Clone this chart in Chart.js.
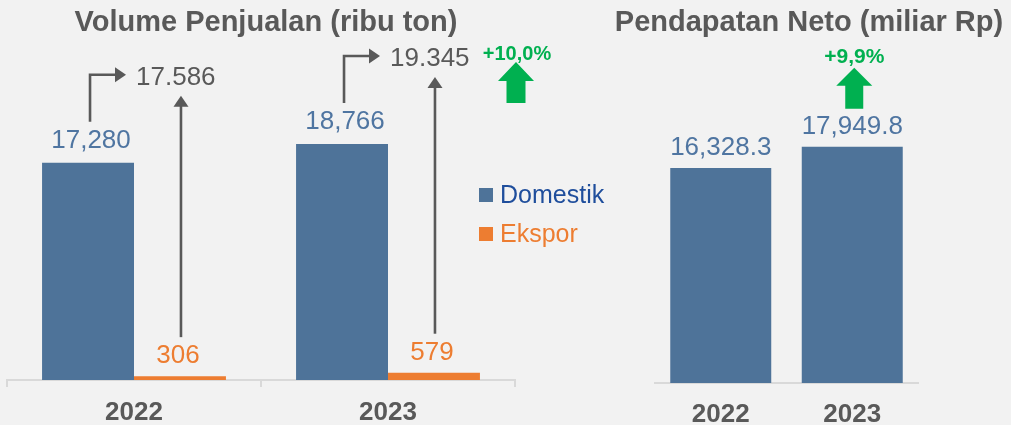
<!DOCTYPE html>
<html><head><meta charset="utf-8">
<script src="https://cdn.jsdelivr.net/npm/chart.js@4.4.1/dist/chart.umd.min.js"></script>
<style>
html,body{margin:0;padding:0;background:#f2f2f2;width:1011px;height:425px;overflow:hidden}
#c1{position:absolute;left:0;top:0}
#c2{position:absolute;left:560px;top:0}
</style></head><body>
<canvas id="c1" width="620" height="425"></canvas>
<canvas id="c2" width="451" height="425"></canvas>
<script>
// ---- data ----
const years = ['2022', '2023'];
const seriesNames = ['Domestik', 'Ekspor'];
const domestik = [17280, 18766];
const ekspor = [306, 579];
const totalVolume = [17586, 19345];
const volumeGrowth = '+10,0%';
const pendapatan = [16328.3, 17949.8];
const pendapatanGrowth = '+9,9%';
const titleVolume = 'Volume Penjualan (ribu ton)';
const titlePendapatan = 'Pendapatan Neto (miliar Rp)';

// ---- styles ----
const FF = '"Liberation Sans", Arial, sans-serif';
const BAR = '#4e7399';
const BLUE_LABEL = '#4f75a1';
const ORANGE = '#ed7d31';
const GRAY = '#595959';
const GREEN = '#00b050';
const LEG_BLUE = '#1f4e9c';
const AXIS = '#d9d9d9';

function fmt(v, thou, dec, decimals) {
  const s = v.toFixed(decimals);
  let [ip, fp] = s.split('.');
  ip = ip.replace(/\B(?=(\d{3})+(?!\d))/g, thou);
  return fp ? ip + dec + fp : ip;
}
function upHead(ctx, x, tipY, half, h) {
  ctx.beginPath(); ctx.moveTo(x, tipY); ctx.lineTo(x - half, tipY + h); ctx.lineTo(x + half, tipY + h); ctx.closePath(); ctx.fill();
}
function rightHead(ctx, tipX, y, half, w) {
  ctx.beginPath(); ctx.moveTo(tipX, y); ctx.lineTo(tipX - w, y - half); ctx.lineTo(tipX - w, y + half); ctx.closePath(); ctx.fill();
}
function blockArrow(ctx, cx, top, headBottom, bottom, headHalf, shaftHalf) {
  ctx.beginPath();
  ctx.moveTo(cx, top);
  ctx.lineTo(cx + headHalf, headBottom);
  ctx.lineTo(cx + shaftHalf, headBottom);
  ctx.lineTo(cx + shaftHalf, bottom);
  ctx.lineTo(cx - shaftHalf, bottom);
  ctx.lineTo(cx - shaftHalf, headBottom);
  ctx.lineTo(cx - headHalf, headBottom);
  ctx.closePath();
  ctx.fill();
}

const volumePlugin = {
  id: 'volumeDecor',
  afterDatasetsDraw(chart) {
    const ctx = chart.ctx, area = chart.chartArea, xs = chart.scales.x;
    const m0 = chart.getDatasetMeta(0), m1 = chart.getDatasetMeta(1);
    ctx.save();
    // title
    ctx.fillStyle = GRAY; ctx.font = 'bold 29px ' + FF; ctx.textAlign = 'center'; ctx.textBaseline = 'middle';
    ctx.fillText(titleVolume, 266, 23);
    // x labels
    ctx.font = 'bold 26px ' + FF;
    years.forEach((y, i) => ctx.fillText(y, xs.getPixelForValue(i), 413));
    let lastLy = 0;
    for (let i = 0; i < years.length; i++) {
      const d = m0.data[i], e = m1.data[i];
      const ly = d.y - 22, oy = e.y - 20;
      lastLy = ly;
      ctx.font = '26px ' + FF; ctx.textAlign = 'center'; ctx.textBaseline = 'middle';
      ctx.fillStyle = BLUE_LABEL; ctx.fillText(fmt(domestik[i], ',', '.', 0), d.x + 3, ly);
      ctx.fillStyle = ORANGE; ctx.fillText(fmt(ekspor[i], ',', '.', 0), e.x - 2, oy);
      // vertical arrow from ekspor label
      ctx.strokeStyle = GRAY; ctx.fillStyle = GRAY; ctx.lineWidth = 2.6;
      const vx = e.x + 1;
      ctx.beginPath(); ctx.moveTo(vx, oy - 19); ctx.lineTo(vx, ly - 36); ctx.stroke();
      upHead(ctx, vx, ly - 45, 7.5, 11);
      // elbow arrow from domestik label
      const ex = d.x + 2, tip = d.x + 38;
      ctx.beginPath(); ctx.moveTo(ex, ly - 19); ctx.lineTo(ex, ly - 66); ctx.lineTo(tip - 8, ly - 66); ctx.stroke();
      rightHead(ctx, tip, ly - 66, 7.5, 11);
      // total label
      ctx.textAlign = 'left'; ctx.fillStyle = GRAY;
      ctx.fillText(fmt(totalVolume[i], '.', ',', 0), tip + 10, ly - 63);
    }
    // growth arrow
    const gx = area.right + 1;
    ctx.fillStyle = GREEN;
    blockArrow(ctx, gx, lastLy - 60, lastLy - 41, lastLy - 19, 18, 9.5);
    ctx.font = 'bold 20px ' + FF; ctx.textAlign = 'center';
    ctx.fillText(volumeGrowth, gx + 1, lastLy - 68);
    // legend
    const lx = area.right - 36;
    const legY = [195, 234];
    const legText = [LEG_BLUE, ORANGE];
    chart.data.datasets.forEach((ds, i) => {
      ctx.fillStyle = ds.backgroundColor;
      ctx.fillRect(lx, legY[i] - 7, 14, 14);
      ctx.fillStyle = legText[i]; ctx.font = '25px ' + FF; ctx.textAlign = 'left';
      ctx.fillText(ds.label, lx + 21, legY[i] + 1);
    });
    ctx.restore();
  }
};

new Chart(document.getElementById('c1'), {
  type: 'bar',
  data: {
    labels: years,
    datasets: [
      { label: seriesNames[0], data: domestik, backgroundColor: BAR, borderWidth: 0 },
      { label: seriesNames[1], data: ekspor, backgroundColor: ORANGE, borderWidth: 0 }
    ]
  },
  options: {
    responsive: false, animation: false, devicePixelRatio: 1,
    layout: { padding: { left: 7, right: 105, top: 60, bottom: 38 } },
    datasets: { bar: { categoryPercentage: 0.724, barPercentage: 1.0 } },
    plugins: { legend: { display: false }, title: { display: false }, tooltip: { enabled: false } },
    scales: {
      x: {
        display: true,
        ticks: { display: false },
        grid: { display: true, drawOnChartArea: false, drawTicks: true, tickLength: 7, color: AXIS, lineWidth: 2 },
        border: { display: true, color: AXIS, width: 2 }
      },
      y: { display: false, min: 0, max: 25450 }
    }
  },
  plugins: [volumePlugin]
});

const revenuePlugin = {
  id: 'revenueDecor',
  afterDatasetsDraw(chart) {
    const ctx = chart.ctx, xs = chart.scales.x;
    const m = chart.getDatasetMeta(0);
    ctx.save();
    ctx.fillStyle = GRAY; ctx.font = 'bold 29px ' + FF; ctx.textAlign = 'center'; ctx.textBaseline = 'middle';
    ctx.fillText(titlePendapatan, 249, 23);
    ctx.font = 'bold 26px ' + FF;
    years.forEach((y, i) => ctx.fillText(y, xs.getPixelForValue(i), 415));
    ctx.font = '26px ' + FF; ctx.fillStyle = BLUE_LABEL;
    m.data.forEach((b, i) => ctx.fillText(fmt(pendapatan[i], ',', '.', 1), b.x, b.y - 20));
    const last = m.data[m.data.length - 1];
    const gx = last.x + 2;
    ctx.fillStyle = GREEN;
    blockArrow(ctx, gx, last.y - 79, last.y - 61, last.y - 38, 18, 9);
    ctx.font = 'bold 21px ' + FF;
    ctx.fillText(pendapatanGrowth, gx, last.y - 90);
    ctx.restore();
  }
};

new Chart(document.getElementById('c2'), {
  type: 'bar',
  data: {
    labels: years,
    datasets: [{ label: 'Pendapatan Neto', data: pendapatan, backgroundColor: BAR, borderWidth: 0 }]
  },
  options: {
    responsive: false, animation: false, devicePixelRatio: 1,
    layout: { padding: { left: 95, right: 93, top: 60, bottom: 42 } },
    datasets: { bar: { categoryPercentage: 0.768, barPercentage: 1.0 } },
    plugins: { legend: { display: false }, title: { display: false }, tooltip: { enabled: false } },
    scales: {
      x: {
        display: true,
        ticks: { display: false },
        grid: { display: false, drawTicks: false, tickLength: 0 },
        border: { display: true, color: AXIS, width: 2 }
      },
      y: { display: false, min: 0, max: 24540 }
    }
  },
  plugins: [revenuePlugin]
});
</script>
</body></html>
